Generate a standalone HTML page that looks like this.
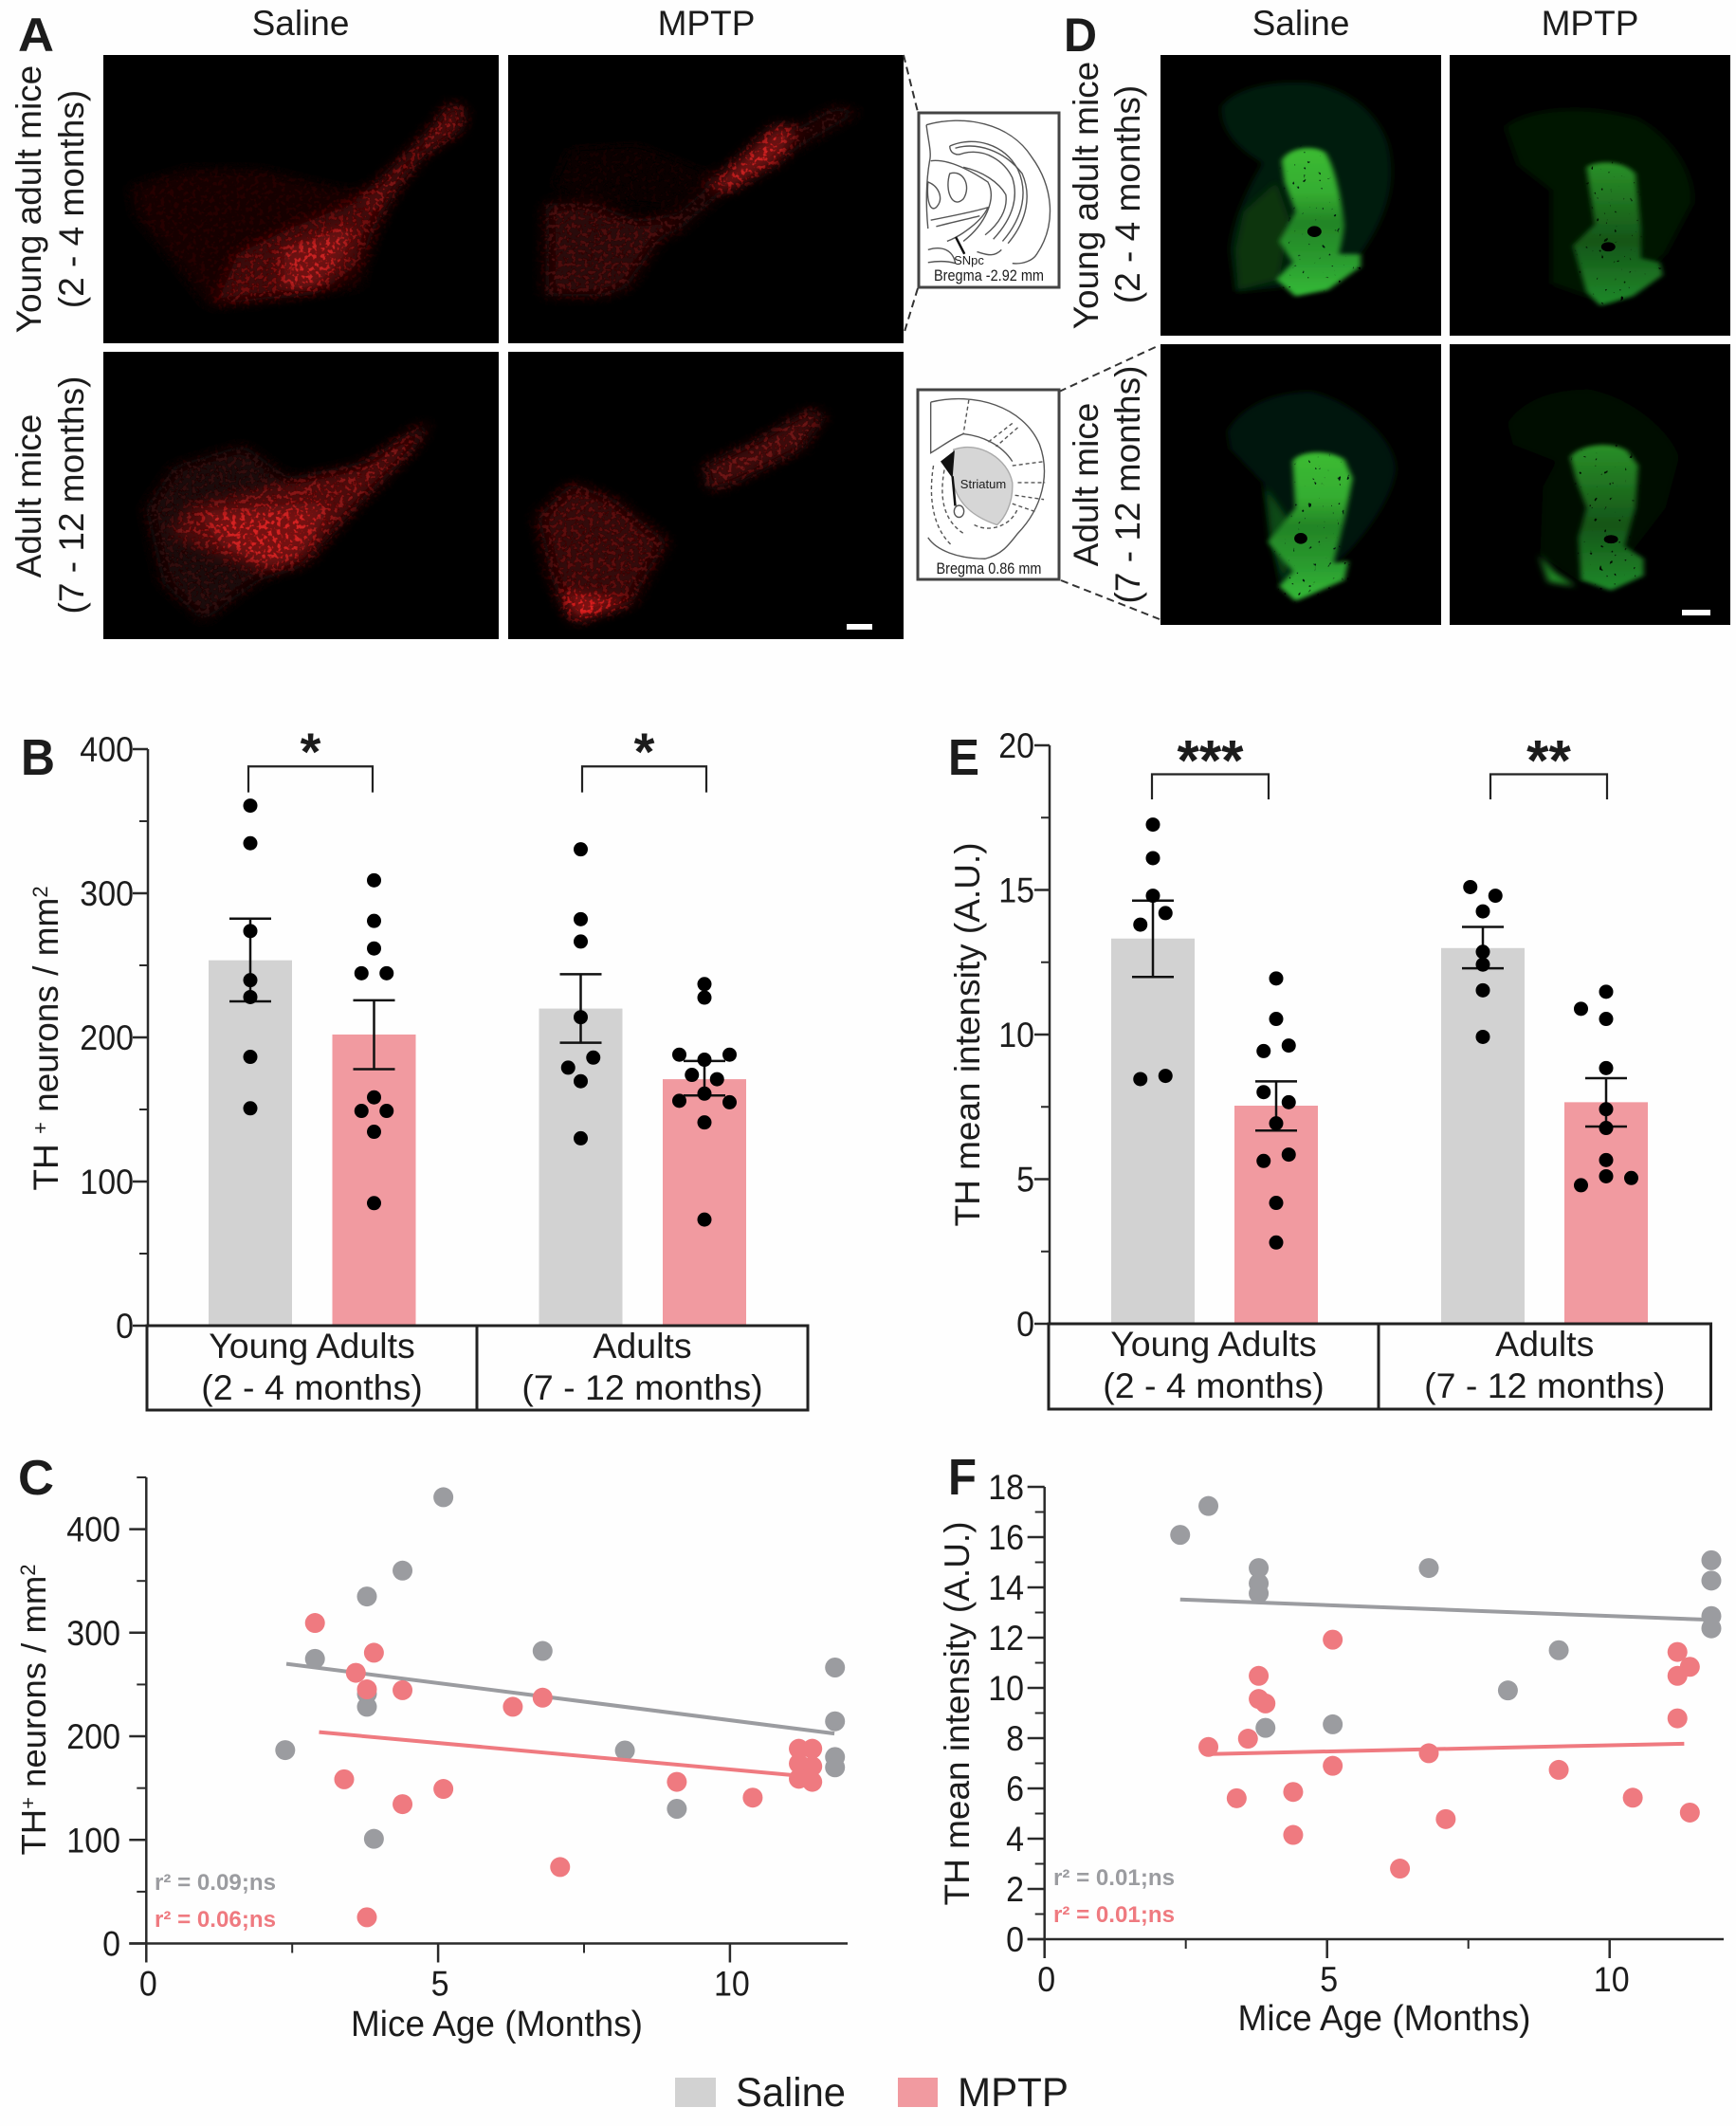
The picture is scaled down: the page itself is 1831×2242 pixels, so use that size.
<!DOCTYPE html>
<html lang="en">
<head>
<meta charset="utf-8">
<title>TH neurons and striatal intensity in young adult and adult mice</title>
<style>
html,body{margin:0;padding:0;background:#fefefe;width:1831px;height:2242px;overflow:hidden}
svg{display:block}
text{font-family:"Liberation Sans",Arial,sans-serif;fill:#1c1c1c}
</style>
</head>
<body>
<svg id="figure" xmlns="http://www.w3.org/2000/svg" width="1831" height="2242" viewBox="0 0 1831 2242">
<defs>
<filter id="redSpeck" x="-20%" y="-20%" width="140%" height="140%">
<feGaussianBlur in="SourceGraphic" stdDeviation="13" result="soft"/>
<feTurbulence type="fractalNoise" baseFrequency="0.13 0.1" numOctaves="2" seed="4" result="noise"/>
<feColorMatrix in="noise" type="matrix" values="0 0 0 0 0 0 0 0 0 0 0 0 0 0 0 8 0 0 0 -4.1" result="mask"/>
<feComposite in="soft" in2="mask" operator="in" result="spots"/>
<feComponentTransfer in="soft" result="dim"><feFuncA type="linear" slope="0.55"/></feComponentTransfer>
<feMerge><feMergeNode in="dim"/><feMergeNode in="spots"/></feMerge>
</filter>
<filter id="greenSoft" x="-15%" y="-15%" width="130%" height="130%">
<feGaussianBlur in="SourceGraphic" stdDeviation="5" result="soft"/>
<feTurbulence type="fractalNoise" baseFrequency="0.11 0.08" numOctaves="2" seed="9" result="noise"/>
<feColorMatrix in="noise" type="matrix" values="0 0 0 0 0 0 0 0 0 0 0 0 0 0 0 14 0 0 0 -10.2" result="holes"/>
<feComposite in="soft" in2="holes" operator="out"/>
</filter>
<filter id="greenDim" x="-15%" y="-15%" width="130%" height="130%">
<feGaussianBlur in="SourceGraphic" stdDeviation="7"/>
</filter>
<linearGradient id="greenBright" x1="0" y1="0" x2="0" y2="1">
<stop offset="0" stop-color="#3cbb32"/><stop offset="0.3" stop-color="#35ad30"/><stop offset="0.5" stop-color="#238426"/><stop offset="0.75" stop-color="#2a9a2e"/><stop offset="1" stop-color="#35bb38"/>
</linearGradient>
<linearGradient id="greenMid" x1="0" y1="0" x2="0" y2="1">
<stop offset="0" stop-color="#2a9028"/><stop offset="0.55" stop-color="#155518"/><stop offset="1" stop-color="#208a2a"/>
</linearGradient>
</defs>

<rect width="1831" height="2242" fill="#fefefe"/>

<!-- Panel A -->
<g>
<text x="19" y="54" font-size="50" font-weight="bold" textLength="38" lengthAdjust="spacingAndGlyphs">A</text>
<text x="317" y="37" font-size="37" text-anchor="middle">Saline</text>
<text x="745" y="37" font-size="37" text-anchor="middle">MPTP</text>
<text transform="translate(43 210) rotate(-90)" font-size="37" text-anchor="middle">Young adult mice</text>
<text transform="translate(88 210) rotate(-90)" font-size="37" text-anchor="middle">(2 - 4 months)</text>
<text transform="translate(43 523) rotate(-90)" font-size="37" text-anchor="middle">Adult mice</text>
<text transform="translate(88 522) rotate(-90)" font-size="37" text-anchor="middle">(7 - 12 months)</text>
<rect x="109" y="58" width="417" height="304" fill="#000"/>
<rect x="536" y="58" width="417" height="304" fill="#000"/>
<rect x="109" y="371" width="417" height="303" fill="#000"/>
<rect x="536" y="371" width="417" height="303" fill="#000"/>
<clipPath id="redClip"><path d="M178 130H859V811H178ZM875 130H1556V811H875ZM178 830H859V1510H178ZM875 830H1556V1510H875Z"/></clipPath>
<g transform="scale(.6122 .4464)" clip-path="url(#redClip)">
<g filter="url(#redSpeck)">
<path fill="#280505" d="M225 440 320 400 450 400 600 450 650 440 640 560 620 680 360 725 300 620 235 510Z"/>
<path fill="#6e1010" d="M375 715 410 600 500 540 610 480 640 450 660 500 620 620 560 680 500 700 430 710Z"/>
<path fill="#8e1616" d="M625 470 690 380 740 310 780 240 800 265 790 310 725 370 680 450 650 520Z"/>
<path fill="#c82020" d="M490 590 610 530 590 610 540 680 490 680Z"/>
</g>
<g filter="url(#redSpeck)">
<path fill="#160303" d="M950 440 980 350 1100 340 1230 410 1160 490 1000 470Z"/>
<path fill="#4e0c0c" d="M940 480 1020 480 1100 520 1180 500 1130 580 1080 680 1040 700 940 700Z"/>
<path fill="#3a0909" d="M1170 500 1230 430 1340 330 1440 250 1480 265 1350 370 1240 460 1150 570Z"/>
<path fill="#d02222" d="M1225 440 1340 295 1365 300 1340 380 1255 450Z"/>
</g>
<g filter="url(#redSpeck)">
<path fill="#300707" d="M250 1200 300 1100 420 1050 500 1130 630 1090 740 990 720 1050 650 1150 590 1230 520 1340 450 1370 350 1470 280 1380Z"/>
<path fill="#8a1616" d="M330 1200 480 1150 620 1110 735 1000 700 1070 620 1180 530 1320 460 1350 380 1310 300 1260Z"/>
<path fill="#d42020" d="M350 1215 560 1195 520 1300 470 1335 390 1290Z"/>
</g>
<g filter="url(#redSpeck)">
<path fill="#701212" d="M1215 1100 1300 1045 1400 965 1418 985 1380 1060 1280 1130 1225 1160Z"/>
<path fill="#5c0f0f" d="M925 1220 985 1140 1060 1180 1150 1280 1110 1370 1090 1425 990 1465 950 1370Z"/>
<path fill="#e82020" d="M965 1400 1085 1425 992 1468Z"/>
</g>
</g>
<rect x="893" y="658" width="27" height="6" fill="#fff"/>
</g>

<!-- Atlas insets -->
<g>
<path d="M953 58 968 118M968 304 953 353" stroke="#333" stroke-width="2" stroke-dasharray="8 5" fill="none"/>
<path d="M1117 413 1223 364M1119 612 1223 653" stroke="#333" stroke-width="2" stroke-dasharray="8 5" fill="none"/>
<rect x="969" y="119" width="148" height="184" fill="#fff" stroke="#444" stroke-width="3"/>
<rect x="968" y="411" width="149" height="200" fill="#fff" stroke="#444" stroke-width="3"/>
<g transform="translate(930 0) scale(.574 .4464)" fill="none" stroke="#555" stroke-width="1.4">
<g>
<path vector-effect="non-scaling-stroke" d="M82 295C150 270 235 290 275 370 315 440 322 530 285 600 278 615 260 625 240 622"/>
<path vector-effect="non-scaling-stroke" d="M82 295C85 330 92 360 88 380 80 440 82 500 85 540"/>
<path vector-effect="non-scaling-stroke" d="M125 345C170 320 225 340 250 400 268 450 262 510 222 570"/>
<path vector-effect="non-scaling-stroke" d="M135 350C175 335 225 355 258 410 275 460 268 520 232 575"/>
<path vector-effect="non-scaling-stroke" d="M125 345C125 360 135 370 150 362 190 350 225 380 240 420 250 460 245 510 205 565"/>
<path vector-effect="non-scaling-stroke" d="M150 395C185 405 215 430 228 460 232 495 215 530 190 555"/>
<path vector-effect="non-scaling-stroke" d="M90 380C120 375 160 400 195 430 212 470 190 530 150 570"/>
<path vector-effect="non-scaling-stroke" d="M125 410C150 400 165 440 150 470 130 495 115 450 125 410Z"/>
<path vector-effect="non-scaling-stroke" d="M85 430C105 440 115 470 100 490 90 500 82 480 85 430Z"/>
<path vector-effect="non-scaling-stroke" d="M90 520C130 510 170 500 195 490 185 520 150 555 120 570"/>
<path vector-effect="non-scaling-stroke" d="M100 535C130 525 165 515 180 510"/>
<path vector-effect="non-scaling-stroke" d="M85 590C110 580 130 590 135 620M85 620C110 615 125 618 135 622"/>
<path vector-effect="non-scaling-stroke" d="M175 595C190 600 205 610 220 590"/>
<path vector-effect="non-scaling-stroke" d="M136 560 152 600" stroke="#111" stroke-width="2.5"/>
</g>
<g>
<path vector-effect="non-scaling-stroke" d="M90 950C170 925 260 960 290 1050 310 1120 295 1200 250 1260 232 1290 220 1310 190 1320 140 1320 100 1300 85 1270"/>
<path vector-effect="non-scaling-stroke" d="M90 950 90 1070C110 1055 130 1035 150 1025 185 1030 220 1050 240 1090"/>
<path vector-effect="non-scaling-stroke" stroke-dasharray="4 3" d="M160 945 150 1025M240 1000 195 1045M250 1010 210 1055M240 1100 300 1090M250 1140 300 1140M245 1170 298 1180M240 1190 285 1210"/>
<path vector-effect="non-scaling-stroke" stroke-dasharray="4 3" d="M95 1100C85 1180 95 1250 130 1290M115 1110C105 1180 115 1230 150 1260M170 1240C200 1260 240 1240 250 1200"/>
<path d="M132 1062C180 1040 232 1085 240 1140 242 1190 225 1225 212 1240 165 1220 125 1180 130 1100Z" fill="#d6d6d6" stroke="#aaa" vector-effect="non-scaling-stroke"/>
<path d="M108 1090 134 1064 130 1130Z" fill="#111" stroke="none"/>
<path vector-effect="non-scaling-stroke" d="M130 1125 135 1195" stroke="#111" stroke-width="2.5"/>
<ellipse cx="142" cy="1208" rx="9" ry="14" vector-effect="non-scaling-stroke"/>
</g>
</g>
<text x="1022" y="279" font-size="13" text-anchor="middle">SNpc</text>
<text x="1043" y="296" font-size="17" text-anchor="middle" textLength="116" lengthAdjust="spacingAndGlyphs">Bregma -2.92 mm</text>
<text x="1037" y="515" font-size="13" text-anchor="middle">Striatum</text>
<text x="1043" y="605" font-size="17" text-anchor="middle" textLength="111" lengthAdjust="spacingAndGlyphs">Bregma 0.86 mm</text>
</g>

<!-- Panel D -->
<g>
<text x="1122" y="54" font-size="50" font-weight="bold" textLength="35" lengthAdjust="spacingAndGlyphs">D</text>
<text x="1372" y="37" font-size="37" text-anchor="middle">Saline</text>
<text x="1677" y="37" font-size="37" text-anchor="middle">MPTP</text>
<text transform="translate(1158 206) rotate(-90)" font-size="37" text-anchor="middle">Young adult mice</text>
<text transform="translate(1202 205) rotate(-90)" font-size="37" text-anchor="middle">(2 - 4 months)</text>
<text transform="translate(1158 511) rotate(-90)" font-size="37" text-anchor="middle">Adult mice</text>
<text transform="translate(1202 511) rotate(-90)" font-size="37" text-anchor="middle">(7 - 12 months)</text>
<rect x="1224" y="58" width="296" height="296" fill="#000"/>
<rect x="1529" y="58" width="296" height="296" fill="#000"/>
<rect x="1224" y="363" width="296" height="296" fill="#000"/>
<rect x="1529" y="363" width="296" height="296" fill="#000"/>
<g transform="translate(930 0) scale(.574 .4464)">
<g>
<path filter="url(#greenDim)" fill="#061c08" d="M625 250C650 210 710 190 780 195 850 205 910 260 930 340 945 420 935 500 880 600L730 680 650 690 640 590C645 520 670 450 700 385 650 350 620 300 625 250Z"/>
<path filter="url(#greenDim)" fill="#0d3510" d="M650 590 665 500 725 430 750 520 730 660 655 685Z"/>
<path filter="url(#greenSoft)" fill="url(#greenBright)" d="M735 380C745 350 790 340 815 360 835 400 845 480 850 530 848 560 842 590 840 600L880 600 880 630 820 685 760 700 725 660 755 620 730 570 760 500 740 430Z"/>
</g>
<g>
<path filter="url(#greenDim)" fill="#041306" d="M1145 300C1180 260 1280 240 1390 280 1460 330 1495 420 1490 480L1440 600 1340 720 1230 670 1230 450 1170 390Z"/>
<path filter="url(#greenSoft)" fill="url(#greenMid)" d="M1295 395C1310 380 1360 375 1385 410L1395 540 1395 610 1430 620 1435 650 1380 700 1320 722 1295 690 1270 580 1310 530Z"/>
</g>
<g>
<path filter="url(#greenDim)" fill="#051708" d="M635 1020C660 960 720 925 790 925 870 950 945 1040 945 1110 935 1200 860 1300 860 1300L780 1400 730 1380 700 1140 640 1060Z"/>
<path filter="url(#greenDim)" fill="#0f4a14" d="M705 1150 760 1250 740 1375 715 1280Z"/>
<path filter="url(#greenSoft)" fill="url(#greenBright)" d="M755 1090C765 1065 820 1060 850 1085L865 1130 850 1230 830 1330 858 1325 850 1370 780 1410 760 1420 730 1385 755 1350 710 1280 760 1200Z"/>
</g>
<g>
<path filter="url(#greenDim)" fill="#031005" d="M1150 1000C1180 940 1240 920 1300 920 1380 940 1450 1020 1465 1080L1440 1200 1380 1300 1290 1380 1210 1310 1215 1150 1240 1090 1160 1050Z"/>
<path filter="url(#greenSoft)" fill="url(#greenMid)" d="M1265 1080C1280 1050 1340 1040 1370 1065L1390 1100 1385 1200 1365 1290 1400 1320 1400 1360 1340 1395 1285 1370 1280 1270 1295 1200 1275 1130Z"/>
<path filter="url(#greenDim)" fill="#248a28" d="M1208 1310 1235 1350 1275 1385 1225 1375Z"/>
</g>
<ellipse cx="795" cy="547" rx="13" ry="13" fill="#000"/>
<ellipse cx="1335" cy="583" rx="13" ry="11" fill="#000"/>
<ellipse cx="770" cy="1272" rx="12" ry="13" fill="#000"/>
<ellipse cx="1340" cy="1274" rx="13" ry="10" fill="#000"/>
</g>
<rect x="1774" y="643" width="30" height="6" fill="#fff"/>
</g>

<!-- Chart panel containers, filled by script -->
<g id="panel-b">
<text x="22" y="817" font-size="54" font-weight="bold" textLength="36" lengthAdjust="spacingAndGlyphs">B</text>
<text transform="translate(61 1095) rotate(-90)" font-size="37" text-anchor="middle">TH <tspan dy="-11" font-size="22">+</tspan><tspan dy="11"> neurons / mm</tspan><tspan dy="-11" font-size="22">2</tspan></text>
</g>
<g id="panel-e">
<text x="1000" y="817" font-size="54" font-weight="bold" textLength="33" lengthAdjust="spacingAndGlyphs">E</text>
<text transform="translate(1033 1091) rotate(-90)" font-size="37" text-anchor="middle">TH mean intensity (A.U.)</text>
</g>
<g id="panel-c">
<text x="19" y="1576" font-size="52" font-weight="bold" textLength="38" lengthAdjust="spacingAndGlyphs">C</text>
<text transform="translate(48 1803) rotate(-90)" font-size="36.5" text-anchor="middle">TH<tspan dy="-11" font-size="22">+</tspan><tspan dy="11"> neurons / mm</tspan><tspan dy="-11" font-size="22">2</tspan></text>
<text x="524" y="2147" font-size="38" text-anchor="middle" textLength="308" lengthAdjust="spacingAndGlyphs">Mice Age (Months)</text>
<text x="163" y="1993" font-size="24" font-weight="bold" style="fill:#9b9ca0" textLength="128" lengthAdjust="spacingAndGlyphs">r² = 0.09;ns</text>
<text x="163" y="2032" font-size="24" font-weight="bold" style="fill:#ef7a80" textLength="128" lengthAdjust="spacingAndGlyphs">r² = 0.06;ns</text>
</g>
<g id="panel-f">
<text x="1000" y="1576" font-size="54" font-weight="bold" textLength="30" lengthAdjust="spacingAndGlyphs">F</text>
<text transform="translate(1022 1807) rotate(-90)" font-size="37" text-anchor="middle">TH mean intensity (A.U.)</text>
<text x="1460" y="2141" font-size="38" text-anchor="middle" textLength="309" lengthAdjust="spacingAndGlyphs">Mice Age (Months)</text>
<text x="1111" y="1988" font-size="24" font-weight="bold" style="fill:#9b9ca0" textLength="128" lengthAdjust="spacingAndGlyphs">r² = 0.01;ns</text>
<text x="1111" y="2027" font-size="24" font-weight="bold" style="fill:#ef7a80" textLength="128" lengthAdjust="spacingAndGlyphs">r² = 0.01;ns</text>
</g>

<!-- Legend -->
<g>
<g>
<rect x="712" y="2191" width="43" height="31" fill="#d2d2d2"/>
<text x="776" y="2221" font-size="43" textLength="116" lengthAdjust="spacingAndGlyphs">Saline</text>
</g>
<g>
<rect x="947" y="2191" width="42" height="31" fill="#f19aa0"/>
<text x="1010" y="2221" font-size="43" textLength="117" lengthAdjust="spacingAndGlyphs">MPTP</text>
</g>
</g>
</svg>

<script>
// ---------- Panel B data ----------
const groupLabels = ['Young Adults', 'Adults'];
const groupAges = ['(2 - 4 months)', '(7 - 12 months)'];
const bYTicks = [0, 100, 200, 300, 400];
const bYMinorTicks = [50, 150, 250, 350];
const bMeans = [253.5, 202, 220, 171];
const bErrorUpper = [282.4, 225.7, 243.8, 183.6];
const bErrorLower = [225, 178, 196.3, 159.7];
const bStars = ['*', '*'];
const bYoungSaline = [360.8, 334.7, 273.8, 239.7, 228, 186.5, 150.8];
const bYoungSalineSlots = [0, 0, 0, 0, 0, 0, 0];
const bYoungMptp = [309, 280.8, 261.7, 244.5, 244.5, 158.4, 149, 149, 134.5, 85];
const bYoungMptpSlots = [0, 0, 0, -0.5, 0.5, 0, -0.5, 0.5, 0, 0];
const bAdultSaline = [330.5, 282, 266.5, 214, 186, 179, 169.6, 130];
const bAdultSalineSlots = [0, 0, 0, 0, 0.5, -0.5, 0, 0];
const bAdultMptp = [237, 227.6, 188, 188, 184.5, 174, 171, 161, 156, 155, 141, 73.6];
const bAdultMptpSlots = [0, 0, -1, 1, 0, -0.5, 0.5, 0, -1, 1, 0, 0];

// ---------- Panel E data ----------
const eYTicks = [0, 5, 10, 15, 20];
const eYMinorTicks = [2.5, 7.5, 12.5, 17.5];
const eMeans = [13.32, 7.54, 12.99, 7.66];
const eErrorUpper = [14.63, 8.38, 13.72, 8.49];
const eErrorLower = [11.99, 6.68, 12.29, 6.82];
const eStars = ['***', '**'];
const eYoungSaline = [17.26, 16.1, 14.8, 14.2, 13.8, 8.57, 8.46];
const eYoungSalineSlots = [0, 0, 0, 0.5, -0.5, 0.5, -0.5];
const eYoungMptp = [11.94, 10.54, 9.62, 9.43, 8.01, 7.66, 6.93, 5.85, 5.63, 4.18, 2.81];
const eYoungMptpSlots = [0, 0, 0.5, -0.5, -0.5, 0.5, 0, 0.5, -0.5, 0, 0];
const eAdultSaline = [15.1, 14.8, 14.26, 12.86, 12.42, 11.53, 9.92];
const eAdultSalineSlots = [-0.5, 0.5, 0, 0, 0, 0, 0];
const eAdultMptp = [11.48, 10.89, 10.54, 8.84, 7.42, 6.77, 5.66, 5.1, 5.04, 4.79];
const eAdultMptpSlots = [0, -1, 0, 0, 0, 0, 0, 0, 1, -1];

// ---------- Panel C data ----------
const cXTicks = [0, 5, 10];
const cXMinorTicks = [2.5, 7.5];
const cYTicks = [0, 100, 200, 300, 400];
const cYMinorTicks = [50, 150, 250, 350, 450];
const cSalineAge = [5.09, 4.39, 3.78, 2.89, 6.79, 3.78, 3.78, 2.38, 3.9, 8.2, 9.09, 11.8, 11.8, 11.8, 11.8];
const cSalineValue = [430.8, 360, 335, 274.8, 282.4, 241, 228.5, 186.7, 101, 186.3, 130, 266.4, 214.5, 180, 170];
const cMptpAge = [2.89, 3.9, 3.59, 3.78, 4.39, 6.28, 6.79, 3.39, 4.39, 5.09, 7.09, 3.78, 9.09, 10.39, 11.18, 11.41, 11.18, 11.41, 11.18, 11.41];
const cMptpValue = [309.4, 280.7, 261.3, 245.3, 244.5, 228.5, 237.3, 158.5, 134.5, 149.2, 73.8, 25.3, 156, 140.8, 188, 188, 173.7, 171, 159, 156];
const cSalineFitAge = [2.4, 11.79];
const cSalineFitValue = [270, 202.7];
const cMptpFitAge = [2.96, 11.12];
const cMptpFitValue = [204, 162.3];

// ---------- Panel F data ----------
const fXTicks = [0, 5, 10];
const fXMinorTicks = [2.5, 7.5];
const fYTicks = [0, 2, 4, 6, 8, 10, 12, 14, 16, 18];
const fYMinorTicks = [1, 3, 5, 7, 9, 11, 13, 15, 17];
const fSalineAge = [2.4, 2.9, 3.79, 3.79, 3.79, 3.91, 5.1, 6.8, 8.2, 9.1, 11.8, 11.8, 11.8, 11.8];
const fSalineValue = [16.09, 17.24, 14.77, 14.16, 13.76, 8.41, 8.55, 14.77, 9.9, 11.5, 15.08, 14.27, 12.86, 12.37];
const fMptpAge = [5.1, 3.79, 3.79, 3.91, 3.6, 2.9, 3.4, 4.4, 4.4, 5.1, 6.8, 6.29, 7.1, 9.1, 10.41, 11.2, 11.42, 11.2, 11.2, 11.42];
const fMptpValue = [11.92, 10.48, 9.56, 9.38, 7.98, 7.65, 5.61, 5.86, 4.15, 6.9, 7.4, 2.81, 4.78, 6.74, 5.63, 11.43, 10.84, 10.48, 8.79, 5.04];
const fSalineFitAge = [2.4, 11.65];
const fSalineFitValue = [13.52, 12.72];
const fMptpFitAge = [2.94, 11.32];
const fMptpFitValue = [7.37, 7.78];

const NS = 'http://www.w3.org/2000/svg';
const INK = '#2a2a2a';
const GRAY_BAR = '#d2d2d2';
const RED_BAR = '#f19aa0';
const GRAY_DOT = '#9b9ca0';
const RED_DOT = '#ef7a80';

function make(parent, tag, props, content) {
  const node = document.createElementNS(NS, tag);
  for (const key in props) node.setAttribute(key, props[key]);
  if (content !== undefined) node.textContent = content;
  parent.appendChild(node);
  return node;
}

function line(parent, x1, y1, x2, y2, color, width, name) {
  const seg = make(parent, 'line', { x1, y1, x2, y2, stroke: color, 'stroke-width': width });
  
  
  return seg;
}

function label(parent, x, y, size, anchor, content, name) {
  const t = make(parent, 'text', { x, y, 'font-size': size, 'text-anchor': anchor }, content);
  
  
  return t;
}

// Tick labels in the reference are narrow and tall: a taller font squeezed to the measured width.
function tickLabel(parent, x, y, anchor, content, name) {
  const t = label(parent, x, y, 37.5, anchor, content, name);
  t.setAttribute('textLength', content.length * 18.9);
  t.setAttribute('lengthAdjust', 'spacingAndGlyphs');
  return t;
}

function drawYAxis(parent, prefix, xAxis, yScale, majors, minors, top, majorLen, minorLen, labelX) {
  line(parent, xAxis, yScale(0), xAxis, top, INK, 2.5, prefix + '-y-axis-line');
  majors.forEach(function (v) {
    line(parent, xAxis - majorLen, yScale(v), xAxis, yScale(v), INK, 2.5, prefix + '-y-tick-' + v);
    tickLabel(parent, labelX, yScale(v) + 13, 'end', String(v), prefix + '-y-tick-label-' + v);
  });
  minors.forEach(function (v) {
    line(parent, xAxis - minorLen, yScale(v), xAxis, yScale(v), INK, 2, prefix + '-y-minor-tick-' + v);
  });
}

function drawBarPanel(root, prefix, cfg) {
  const y = cfg.yScale;
  const center = cfg.center;
  const fills = [GRAY_BAR, RED_BAR, GRAY_BAR, RED_BAR];
  const conditions = ['young-saline', 'young-mptp', 'adult-saline', 'adult-mptp'];
  cfg.means.forEach(function (m, i) {
    const bar = make(root, 'rect', { x: center(i) - cfg.barWidth / 2, y: y(m), width: cfg.barWidth, height: y(0) - y(m), fill: fills[i] });
    
    
  });
  drawYAxis(root, prefix, cfg.xAxis, y, cfg.ticks, cfg.minors, y(cfg.ticks[cfg.ticks.length - 1]), 16, 9, cfg.labelX);
  cfg.means.forEach(function (m, i) {
    const cx = center(i);
    line(root, cx, y(cfg.upper[i]), cx, y(cfg.lower[i]), '#111', 2.5, prefix + '-error-stem-' + conditions[i]);
    line(root, cx - 22, y(cfg.upper[i]), cx + 22, y(cfg.upper[i]), '#111', 2.5, prefix + '-error-cap-upper-' + conditions[i]);
    line(root, cx - 22, y(cfg.lower[i]), cx + 22, y(cfg.lower[i]), '#111', 2.5, prefix + '-error-cap-lower-' + conditions[i]);
    cfg.points[i].forEach(function (v, k) {
      const dot = make(root, 'circle', { cx: cx + cfg.slots[i][k] * 26.5, cy: y(v), r: 7.5, fill: '#000' });
      
      
    });
  });
  cfg.stars.forEach(function (s, g) {
    const left = cfg.bracketLeft(g);
    const right = left + cfg.bracketWidth;
    const top = y(cfg.bracketTop);
    const low = y(cfg.bracketLow);
    const b = make(root, 'path', { d: 'M' + left + ' ' + low + 'V' + top + 'H' + right + 'V' + low, fill: 'none', stroke: '#222', 'stroke-width': 2.2 });
    
    
    const st = label(root, (left + right) / 2, top + cfg.starOffset, cfg.starSize, 'middle', s, prefix + '-significance-stars-' + (g + 1));
    st.setAttribute('font-weight', 'bold');
  });
  const boxTop = y(0);
  const box = make(root, 'rect', { x: cfg.boxLeft, y: boxTop, width: cfg.boxRight - cfg.boxLeft, height: cfg.boxBottom - boxTop, fill: 'none', stroke: '#222', 'stroke-width': 3 });
  
  
  line(root, cfg.boxMid, boxTop, cfg.boxMid, cfg.boxBottom, '#222', 3, prefix + '-category-divider');
  groupLabels.forEach(function (name, g) {
    const cx = (g === 0 ? (cfg.boxLeft + cfg.boxMid) : (cfg.boxMid + cfg.boxRight)) / 2;
    label(root, cx, boxTop + 34, 37.5, 'middle', name, prefix + '-category-label-' + (g + 1));
    label(root, cx, boxTop + 78, 37.5, 'middle', groupAges[g], prefix + '-category-age-' + (g + 1));
  });
}

function drawScatterPanel(root, prefix, cfg) {
  const x = cfg.xScale;
  const y = cfg.yScale;
  drawYAxis(root, prefix, x(0), y, cfg.yTicks, cfg.yMinors, y(cfg.yTop), 18, 10, cfg.yLabelX);
  line(root, x(0) - 18, y(0), cfg.xEnd, y(0), INK, 2.5, prefix + '-x-axis-line');
  cfg.xTicks.forEach(function (v) {
    line(root, x(v), y(0), x(v), y(0) + 20, INK, 2.5, prefix + '-x-tick-' + v);
    tickLabel(root, x(v) + 2, y(0) + 55, 'middle', String(v), prefix + '-x-tick-label-' + v);
  });
  cfg.xMinors.forEach(function (v) {
    line(root, x(v), y(0), x(v), y(0) + 10, INK, 2, prefix + '-x-minor-tick-' + v);
  });
  cfg.salineAge.forEach(function (a, i) {
    const dot = make(root, 'ellipse', { cx: x(a), cy: y(cfg.salineValue[i]), rx: 10.5, ry: 10.5, fill: GRAY_DOT });
    
    
  });
  line(root, x(cfg.salineFitAge[0]), y(cfg.salineFitValue[0]), x(cfg.salineFitAge[1]), y(cfg.salineFitValue[1]), GRAY_DOT, 4, prefix + '-fit-line-saline');
  cfg.mptpAge.forEach(function (a, i) {
    const dot = make(root, 'ellipse', { cx: x(a), cy: y(cfg.mptpValue[i]), rx: 10.5, ry: 10.5, fill: RED_DOT });
    
    
  });
  line(root, x(cfg.mptpFitAge[0]), y(cfg.mptpFitValue[0]), x(cfg.mptpFitAge[1]), y(cfg.mptpFitValue[1]), RED_DOT, 4, prefix + '-fit-line-mptp');
}

drawBarPanel(document.getElementById('panel-b'), 'panel-b', {
  yScale: function (v) { return 1398 - v * 1.52; },
  center: function (i) { return 264 + Math.floor(i / 2) * 348.5 + (i % 2) * 130.5; },
  barWidth: 88, xAxis: 156, labelX: 141,
  ticks: bYTicks, minors: bYMinorTicks,
  means: bMeans, upper: bErrorUpper, lower: bErrorLower,
  points: [bYoungSaline, bYoungMptp, bAdultSaline, bAdultMptp],
  slots: [bYoungSalineSlots, bYoungMptpSlots, bAdultSalineSlots, bAdultMptpSlots],
  stars: bStars, bracketTop: 388, bracketLow: 370, starOffset: 4, starSize: 56,
  bracketLeft: function (g) { return 262 + g * 352; }, bracketWidth: 131,
  boxLeft: 155, boxMid: 503, boxRight: 852, boxBottom: 1487
});

drawBarPanel(document.getElementById('panel-e'), 'panel-e', {
  yScale: function (v) { return 1396 - v * 30.5; },
  center: function (i) { return 1216 + Math.floor(i / 2) * 348 + (i % 2) * 130; },
  barWidth: 88, xAxis: 1107, labelX: 1091,
  ticks: eYTicks, minors: eYMinorTicks,
  means: eMeans, upper: eErrorUpper, lower: eErrorLower,
  points: [eYoungSaline, eYoungMptp, eAdultSaline, eAdultMptp],
  slots: [eYoungSalineSlots, eYoungMptpSlots, eAdultSalineSlots, eAdultMptpSlots],
  stars: eStars, bracketTop: 19.0, bracketLow: 18.13, starOffset: 6, starSize: 60,
  bracketLeft: function (g) { return 1215 + g * 357; }, bracketWidth: 123,
  boxLeft: 1106, boxMid: 1454, boxRight: 1804.5, boxBottom: 1486
});

drawScatterPanel(document.getElementById('panel-c'), 'panel-c', {
  xScale: function (m) { return 154.3 + m * 61.56; },
  yScale: function (v) { return 2049.5 - v * 1.0923; },
  xEnd: 894, yTop: 450, yLabelX: 127,
  xTicks: cXTicks, xMinors: cXMinorTicks, yTicks: cYTicks, yMinors: cYMinorTicks,
  salineAge: cSalineAge, salineValue: cSalineValue, mptpAge: cMptpAge, mptpValue: cMptpValue,
  salineFitAge: cSalineFitAge, salineFitValue: cSalineFitValue, mptpFitAge: cMptpFitAge, mptpFitValue: cMptpFitValue
});

drawScatterPanel(document.getElementById('panel-f'), 'panel-f', {
  xScale: function (m) { return 1101.7 + m * 59.6; },
  yScale: function (v) { return 2045 - v * 26.5; },
  xEnd: 1818, yTop: 18, yLabelX: 1080,
  xTicks: fXTicks, xMinors: fXMinorTicks, yTicks: fYTicks, yMinors: fYMinorTicks,
  salineAge: fSalineAge, salineValue: fSalineValue, mptpAge: fMptpAge, mptpValue: fMptpValue,
  salineFitAge: fSalineFitAge, salineFitValue: fSalineFitValue, mptpFitAge: fMptpFitAge, mptpFitValue: fMptpFitValue
});
</script>
</body>
</html>
